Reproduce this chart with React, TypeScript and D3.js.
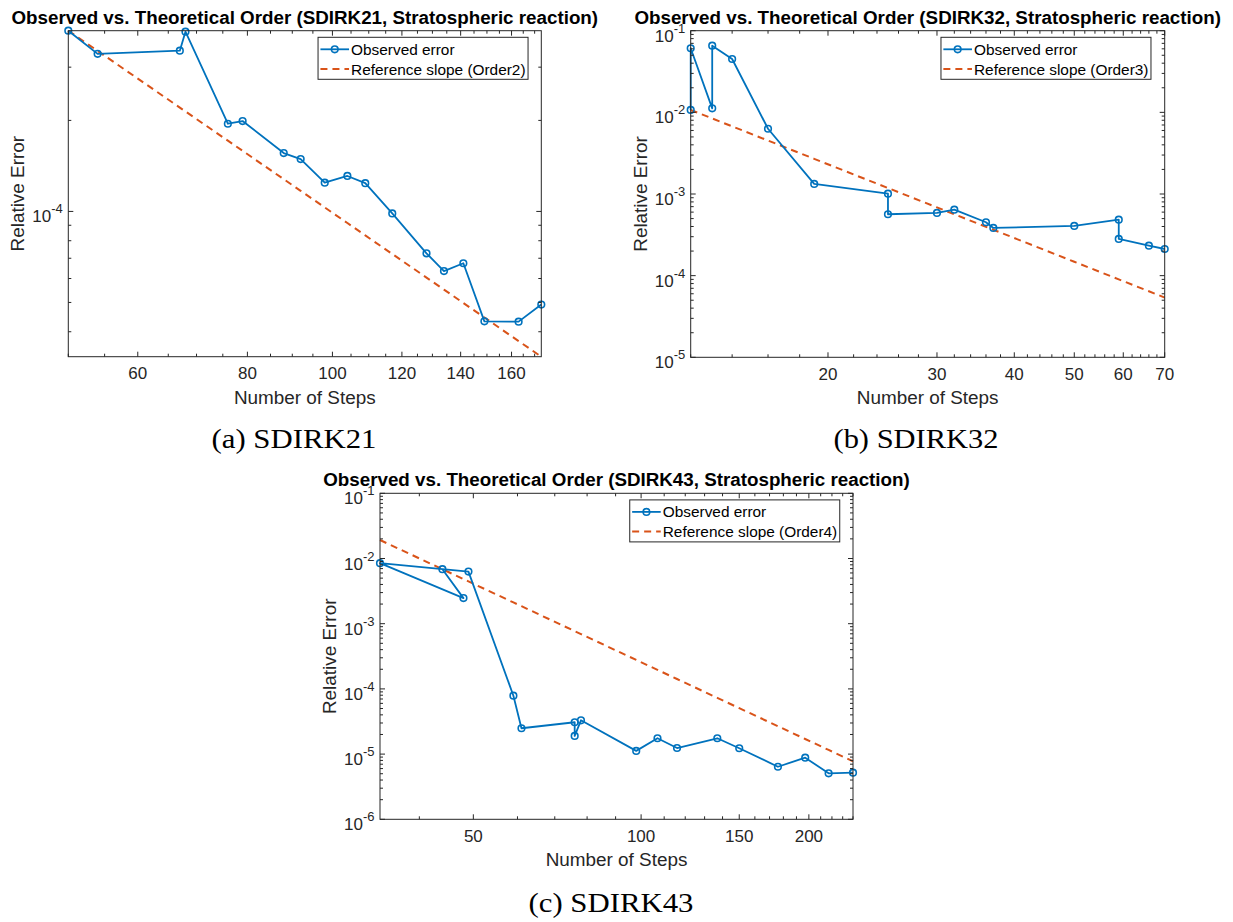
import React from 'react';
import * as d3 from 'd3';

// ---------- DATA ----------
const stepsA = [50, 54, 67, 68, 76, 79, 88, 92, 98, 104, 109, 117, 128, 134, 141, 149, 163, 173];
const errA = [3.96e-4, 3.32e-4, 3.40e-4, 3.93e-4, 1.95e-4, 1.99e-4, 1.56e-4, 1.49e-4, 1.245e-4, 1.31e-4, 1.24e-4, 0.985e-4, 7.27e-5, 6.35e-5, 6.74e-5, 4.33e-5, 4.32e-5, 4.92e-5];

const stepsB = [12, 12, 13, 13, 14, 16, 19, 25, 25, 30, 32, 36, 37, 50, 59, 59, 66, 70];
const errB = [1.07e-2, 6.1e-2, 1.12e-2, 6.55e-2, 4.5e-2, 6.3e-3, 1.33e-3, 1.01e-3, 5.65e-4, 5.86e-4, 6.43e-4, 4.51e-4, 3.84e-4, 4.06e-4, 4.85e-4, 2.82e-4, 2.33e-4, 2.12e-4];

const stepsC = [44, 48, 34, 49, 59, 61, 76, 76, 78, 98, 107, 116, 137, 150, 176, 197, 217, 240];
const errC = [6.85e-3, 2.47e-3, 8.47e-3, 6.3e-3, 7.87e-5, 2.49e-5, 3.08e-5, 1.9e-5, 3.3e-5, 1.12e-5, 1.75e-5, 1.24e-5, 1.75e-5, 1.23e-5, 6.4e-6, 8.8e-6, 5.08e-6, 5.19e-6];

const xTicksA = [60, 80, 100, 120, 140, 160];
const xTicksB = [20, 30, 40, 50, 60, 70];
const xTicksC = [50, 100, 150, 200];
const yTicksA = [1e-4];
const yTicksB = [1e-5, 1e-4, 1e-3, 1e-2, 1e-1];
const yTicksC = [1e-6, 1e-5, 1e-4, 1e-3, 1e-2, 1e-1];

const methods = ['SDIRK21', 'SDIRK32', 'SDIRK43'];
const orders = [2, 3, 4];
const captions = ['(a) SDIRK21', '(b) SDIRK32', '(c) SDIRK43'];

// ---------- STYLE ----------
const BLUE = '#0072BD';
const ORANGE = '#D95319';
const AX = '#262626';
const SANS = "'Liberation Sans', Arial, Helvetica, sans-serif";
const SERIF = "'Liberation Serif', 'Times New Roman', serif";

function logMinor(lo: number, hi: number) {
  const out: number[] = [];
  for (let e = Math.floor(Math.log10(lo)); e <= Math.ceil(Math.log10(hi)); e++) {
    for (let m = 2; m <= 9; m++) {
      const v = m * Math.pow(10, e);
      if (v >= lo * 0.999 && v <= hi * 1.001) out.push(v);
    }
  }
  return out;
}

type PanelProps = {
  steps: number[];
  err: number[];
  order: number;
  method: string;
  left: number;
  top: number;
  width: number;
  height: number;
  xMajor: number[];
  xMinor: number[];
  yMajor: number[];
  yDomain?: [number, number];
  yLabelX: number;
};

function Panel(p: PanelProps) {
  const { steps, err, order, left, top, width, height } = p;
  const n0 = steps[0];
  const e0 = err[0];
  const refN = Array.from(new Set(steps)).sort((a, b) => a - b);
  const refE = refN.map((n) => e0 * Math.pow(n0 / n, order));
  const xDom = d3.extent(steps) as [number, number];
  const yDom: [number, number] =
    p.yDomain ?? [d3.min([...err, ...refE]) as number, d3.max([...err, ...refE]) as number];
  const x = d3.scaleLog().domain(xDom).range([left, left + width]);
  const y = d3.scaleLog().domain(yDom).range([top + height, top]);
  const yMinor = logMinor(yDom[0], yDom[1]).filter((v) => !p.yMajor.some((m) => Math.abs(m - v) / m < 1e-6));

  const line = d3
    .line<[number, number]>()
    .x((d) => x(d[0]))
    .y((d) => y(d[1]));
  const obsPts: [number, number][] = steps.map((s, i) => [s, err[i]]);
  const refPts: [number, number][] = refN.map((s, i) => [s, refE[i]]);

  const bottom = top + height;
  const right = left + width;
  const MAJ = 5;
  const MIN = 3;
  const lg = { x: left + 0.528 * width, y: top + 6.6, w: 210, h: 42 };

  return (
    <g>
      <rect x={left} y={top} width={width} height={height} fill="white" />
      {/* observed and reference lines */}
      <path d={line(refPts) ?? ''} fill="none" stroke={ORANGE} strokeWidth={2} strokeDasharray="7,5" />
      <path d={line(obsPts) ?? ''} fill="none" stroke={BLUE} strokeWidth={1.8} strokeLinejoin="round" />
      {obsPts.map((d, i) => (
        <circle key={i} cx={x(d[0])} cy={y(d[1])} r={3.3} fill="none" stroke={BLUE} strokeWidth={1.6} />
      ))}
      {/* ticks */}
      {p.xMinor.map((v, i) => (
        <g key={'xm' + i}>
          <line x1={x(v)} x2={x(v)} y1={bottom} y2={bottom - MIN} stroke={AX} strokeWidth={1} />
          <line x1={x(v)} x2={x(v)} y1={top} y2={top + MIN} stroke={AX} strokeWidth={1} />
        </g>
      ))}
      {p.xMajor.map((v, i) => (
        <g key={'xM' + i}>
          <line x1={x(v)} x2={x(v)} y1={bottom} y2={bottom - MAJ} stroke={AX} strokeWidth={1} />
          <line x1={x(v)} x2={x(v)} y1={top} y2={top + MAJ} stroke={AX} strokeWidth={1} />
          <text x={x(v)} y={bottom + 22.5} textAnchor="middle" fontSize={17} fill={AX} fontFamily={SANS}>
            {v}
          </text>
        </g>
      ))}
      {yMinor.map((v, i) => (
        <g key={'ym' + i}>
          <line x1={left} x2={left + MIN} y1={y(v)} y2={y(v)} stroke={AX} strokeWidth={1} />
          <line x1={right} x2={right - MIN} y1={y(v)} y2={y(v)} stroke={AX} strokeWidth={1} />
        </g>
      ))}
      {p.yMajor.map((v, i) => (
        <g key={'yM' + i}>
          <line x1={left} x2={left + MAJ} y1={y(v)} y2={y(v)} stroke={AX} strokeWidth={1} />
          <line x1={right} x2={right - MAJ} y1={y(v)} y2={y(v)} stroke={AX} strokeWidth={1} />
          <text x={left - 5.5} y={y(v) + 11} textAnchor="end" fontSize={17} fill={AX} fontFamily={SANS}>
            10
            <tspan dy={-9} fontSize={13}>
              {String(Math.round(Math.log10(v))).replace('−', '-')}
            </tspan>
          </text>
        </g>
      ))}
      <rect x={left} y={top} width={width} height={height} fill="none" stroke={AX} strokeWidth={1} />
      {/* labels */}
      <text
        x={left + width / 2}
        y={top - 7}
        textAnchor="middle"
        fontSize={18.8}
        fontWeight="bold"
        fill="#000"
        fontFamily={SANS}
      >
        {`Observed vs. Theoretical Order (${p.method}, Stratospheric reaction)`}
      </text>
      <text x={left + width / 2} y={bottom + 47} textAnchor="middle" fontSize={18.9} fill={AX} fontFamily={SANS}>
        Number of Steps
      </text>
      <text
        transform={`translate(${p.yLabelX},${top + height / 2}) rotate(-90)`}
        textAnchor="middle"
        fontSize={18.9}
        fill={AX}
        fontFamily={SANS}
      >
        Relative Error
      </text>
      {/* legend */}
      <rect x={lg.x} y={lg.y} width={lg.w} height={lg.h} fill="white" stroke={AX} strokeWidth={1} />
      <line x1={lg.x + 2.4} x2={lg.x + 31} y1={lg.y + 12} y2={lg.y + 12} stroke={BLUE} strokeWidth={1.8} />
      <circle cx={lg.x + 16.7} cy={lg.y + 12} r={3.3} fill="none" stroke={BLUE} strokeWidth={1.6} />
      <text x={lg.x + 33} y={lg.y + 12} dy="0.36em" fontSize={15.4} fill="#000" fontFamily={SANS}>
        Observed error
      </text>
      <line
        x1={lg.x + 2.4}
        x2={lg.x + 31}
        y1={lg.y + 31.7}
        y2={lg.y + 31.7}
        stroke={ORANGE}
        strokeWidth={2}
        strokeDasharray="7,5"
      />
      <text x={lg.x + 33} y={lg.y + 31.7} dy="0.36em" fontSize={15.4} fill="#000" fontFamily={SANS}>
        {`Reference slope (Order${order})`}
      </text>
    </g>
  );
}

function Caption({ x, y, text }: { x: number; y: number; text: string }) {
  return (
    <text
      x={x}
      y={y}
      textAnchor="middle"
      fontSize={28}
      fill="#000"
      fontFamily={SERIF}
      textLength={165}
      lengthAdjust="spacingAndGlyphs"
    >
      {text}
    </text>
  );
}

export default function App() {
  return (
    <svg
      width={1233}
      height={922}
      style={{ position: 'absolute', left: 0, top: 0, background: 'white' }}
      xmlns="http://www.w3.org/2000/svg"
    >
      <rect x={0} y={0} width={1233} height={922} fill="white" />
      <Panel
        steps={stepsA}
        err={errA}
        order={orders[0]}
        method={methods[0]}
        left={68.3}
        top={30.7}
        width={473}
        height={326}
        xMajor={xTicksA}
        xMinor={d3.range(50, 171, 5).filter((v) => !xTicksA.includes(v))}
        yMajor={yTicksA}
        yLabelX={24}
      />
      <Panel
        steps={stepsB}
        err={errB}
        order={orders[1]}
        method={methods[1]}
        left={690.7}
        top={30.7}
        width={474}
        height={326.6}
        xMajor={xTicksB}
        xMinor={d3.range(12, 70, 2).filter((v) => !xTicksB.includes(v))}
        yMajor={yTicksB}
        yDomain={[1e-5, 1e-1]}
        yLabelX={646.5}
      />
      <Panel
        steps={stepsC}
        err={errC}
        order={orders[2]}
        method={methods[2]}
        left={380}
        top={493.3}
        width={473}
        height={326}
        xMajor={xTicksC}
        xMinor={d3.range(40, 241, 10).filter((v) => !xTicksC.includes(v))}
        yMajor={yTicksC}
        yDomain={[1e-6, 1e-1]}
        yLabelX={336}
      />
      <Caption x={294} y={448.3} text={captions[0]} />
      <Caption x={916} y={448.3} text={captions[1]} />
      <Caption x={611} y={912} text={captions[2]} />
    </svg>
  );
}
